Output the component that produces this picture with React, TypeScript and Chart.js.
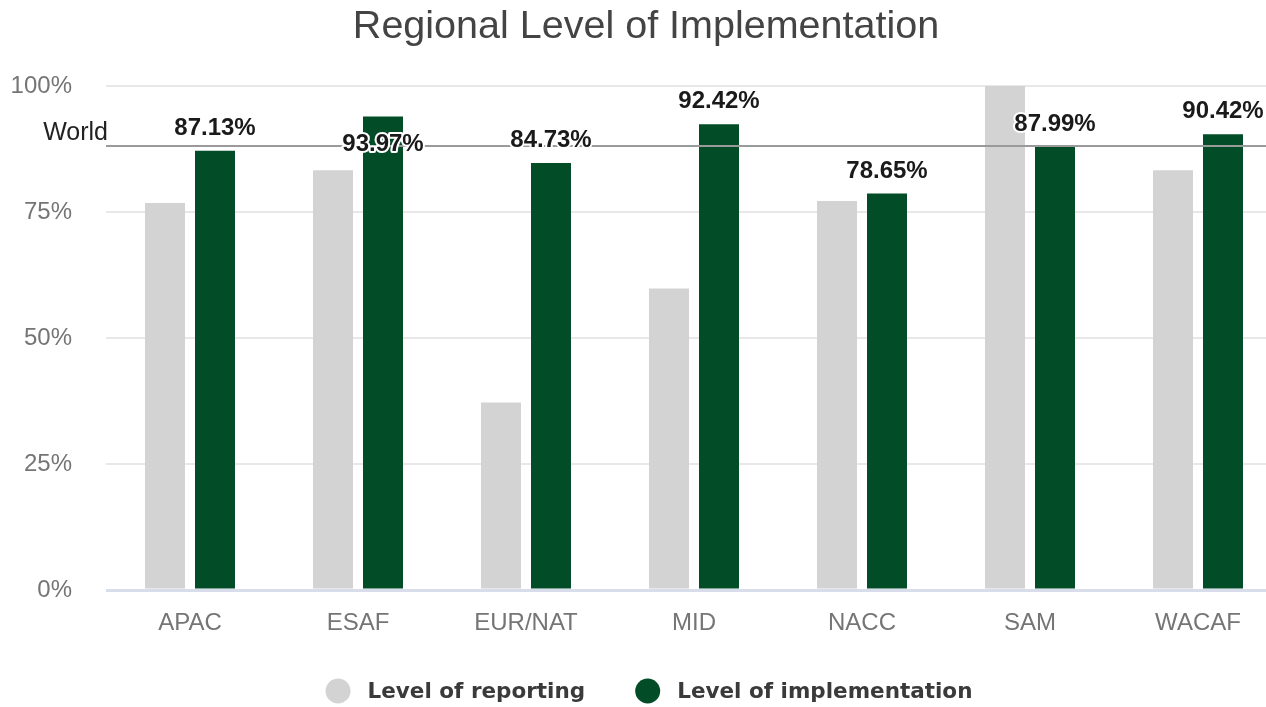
import React, { useEffect, useRef } from "react";
import { Chart, registerables } from "chart.js";

Chart.register(...registerables);

const categories = ["APAC", "ESAF", "EUR/NAT", "MID", "NACC", "SAM", "WACAF"];
const reporting = [76.8, 83.3, 37.2, 59.8, 77.2, 100, 83.3];
const implementation = [87.13, 93.97, 84.73, 92.42, 78.65, 87.99, 90.42];
const worldValue = 88.1;
const worldLabel = "World";
const yTicks = [0, 25, 50, 75, 100];
const seriesNames = ["Level of reporting", "Level of implementation"];
const seriesColors = ["#d3d3d3", "#034c28"];
const labelsInside = ["ESAF"];

const FONT = "'Liberation Sans', Arial, sans-serif";

const overlayPlugin = {
  id: "overlay",
  afterDatasetsDraw(chart: any) {
    const { ctx, chartArea, scales } = chart;
    const y = scales.y.getPixelForValue(worldValue);
    ctx.save();
    ctx.strokeStyle = "#9a9a9a";
    ctx.lineWidth = 2;
    ctx.beginPath();
    ctx.moveTo(chartArea.left, y);
    ctx.lineTo(chartArea.right, y);
    ctx.stroke();
    ctx.font = `25px ${FONT}`;
    ctx.fillStyle = "#222";
    ctx.textAlign = "right";
    ctx.textBaseline = "alphabetic";
    ctx.fillText(worldLabel, chartArea.left + 2, y - 6);

    const meta = chart.getDatasetMeta(1);
    ctx.font = `bold 24px ${FONT}`;
    ctx.textAlign = "center";
    ctx.lineJoin = "round";
    meta.data.forEach((bar: any, i: number) => {
      const txt = implementation[i].toFixed(2) + "%";
      const inside = labelsInside.includes(categories[i]);
      const ty = inside ? bar.y + 35 : bar.y - 16;
      ctx.strokeStyle = "#ffffff";
      ctx.lineWidth = 4;
      ctx.strokeText(txt, bar.x, ty);
      ctx.fillStyle = "#1a1a1a";
      ctx.fillText(txt, bar.x, ty);
    });
    ctx.restore();
  },
  afterDraw(chart: any) {
    const { ctx } = chart;
    ctx.save();
    ctx.font = `bold 21.5px 'DejaVu Sans', sans-serif`;
    const r = 12.5;
    const gapText = 17;
    const gapItem = 50;
    const widths = seriesNames.map((n) => ctx.measureText(n).width);
    const total =
      widths.reduce((a, b) => a + b, 0) + seriesNames.length * (2 * r + gapText) + gapItem * (seriesNames.length - 1);
    let x = chart.width / 2 - total / 2 + 3;
    const cy = 691;
    seriesNames.forEach((n, i) => {
      ctx.fillStyle = seriesColors[i];
      ctx.beginPath();
      ctx.arc(x + r, cy, r, 0, Math.PI * 2);
      ctx.fill();
      x += 2 * r + gapText;
      ctx.fillStyle = "#3a3a3a";
      ctx.textAlign = "left";
      ctx.textBaseline = "middle";
      ctx.fillText(n, x, cy + 1);
      x += widths[i] + gapItem;
    });
    ctx.restore();
  },
};

export default function App() {
  const ref = useRef<HTMLCanvasElement>(null);
  useEffect(() => {
    if (!ref.current) return;
    const chart = new Chart(ref.current, {
      type: "bar",
      data: {
        labels: categories,
        datasets: [
          {
            label: seriesNames[0],
            data: reporting,
            backgroundColor: seriesColors[0],
            categoryPercentage: 100 / 168,
            barPercentage: 0.8,
          },
          {
            label: seriesNames[1],
            data: implementation,
            backgroundColor: seriesColors[1],
            categoryPercentage: 100 / 168,
            barPercentage: 0.8,
          },
        ],
      },
      options: {
        responsive: false,
        animation: false,
        devicePixelRatio: 1,
        layout: { padding: { left: 10, right: 10, top: 0, bottom: 57 } },
        plugins: {
          legend: { display: false },
          tooltip: { enabled: false },
          title: {
            display: true,
            text: "Regional Level of Implementation",
            color: "#444",
            font: { family: FONT, size: 39.5, weight: "normal" },
            padding: { top: 3, bottom: 35.6 },
          },
        },
        scales: {
          x: {
            grid: { display: false },
            border: { display: false },
            ticks: { color: "#757575", font: { family: FONT, size: 24 }, padding: 11 },
            afterFit: (s: any) => {
              s.height = 60;
            },
          },
          y: {
            min: 0,
            max: 100,
            afterBuildTicks: (s: any) => {
              s.ticks = yTicks.map((v) => ({ value: v }));
            },
            ticks: {
              color: "#757575",
              font: { family: FONT, size: 24 },
              padding: 34,
              callback: (v: any) => v + "%",
            },
            grid: {
              drawTicks: false,
              color: (c: any) => (c.tick && c.tick.value === 0 ? "#d7ddea" : "#e8e8e8"),
              lineWidth: (c: any) => (c.tick && c.tick.value === 0 ? 3 : 2),
            },
            border: { display: false },
            afterFit: (s: any) => {
              s.width = 96;
            },
          },
        },
      },
      plugins: [overlayPlugin],
    });
    return () => chart.destroy();
  }, []);
  return (
    <div
      style={{
        position: "fixed",
        left: 0,
        top: 0,
        width: 1266,
        height: 707,
        overflow: "hidden",
        background: "#fff",
      }}
    >
      <canvas ref={ref} width={1292} height={707} style={{ width: 1292, height: 707, display: "block" }} />
    </div>
  );
}
